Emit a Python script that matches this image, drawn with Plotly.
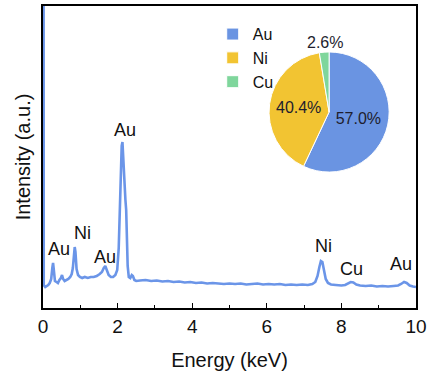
import plotly.graph_objects as go

# EDS spectrum (energy in keV, intensity in arbitrary units)
energy = [0.00, 0.02, 0.06, 0.10, 0.14, 0.18, 0.22, 0.25, 0.27, 0.29, 0.32, 0.36, 0.40, 0.44, 0.48,
          0.51, 0.54, 0.58, 0.63, 0.68, 0.73, 0.77, 0.80, 0.83, 0.85, 0.87, 0.90, 0.94, 0.99, 1.05,
          1.12, 1.20, 1.28, 1.36, 1.44, 1.52, 1.58, 1.63, 1.67, 1.71, 1.76, 1.82, 1.88, 1.94, 1.99,
          2.03, 2.06, 2.09, 2.11, 2.13, 2.15, 2.17, 2.19, 2.21, 2.23, 2.25, 2.27, 2.30, 2.34, 2.38,
          2.41, 2.45, 2.50, 2.60, 2.75, 2.90, 3.05, 3.20, 3.35, 3.50, 3.65, 3.80, 3.95, 4.10, 4.25,
          4.40, 4.55, 4.70, 4.85, 5.00, 5.15, 5.30, 5.45, 5.60, 5.75, 5.90, 6.05, 6.20, 6.35, 6.50,
          6.65, 6.80, 6.95, 7.10, 7.22, 7.30, 7.36, 7.41, 7.45, 7.49, 7.53, 7.58, 7.64, 7.72, 7.85,
          8.00, 8.10, 8.18, 8.25, 8.32, 8.40, 8.50, 8.65, 8.80, 8.95, 9.10, 9.25, 9.40, 9.52, 9.60,
          9.68, 9.75, 9.83, 9.92, 10.00]
intensity = [1500, 23, 21, 22, 23, 25, 29, 40, 45, 38, 27, 26, 25, 28, 30,
             33, 29, 27, 28, 29, 31, 34, 40, 55, 61, 56, 39, 33, 31, 30,
             31, 30, 31, 31, 32, 34, 36, 40, 42, 38, 33, 31, 31, 33, 38,
             60, 105, 150, 162, 166, 150, 130, 112, 108, 98, 70, 42, 31, 30, 33,
             32, 28, 27, 27.5, 28, 27, 27.5, 26.5, 27, 26, 26.5, 25.5, 26, 25, 25.5,
             24.5, 25, 24.5, 24, 24.5, 24, 24.5, 23.5, 24, 24.5, 23.5, 24, 23.5, 24, 23,
             23.5, 23, 23.5, 23, 24, 26, 32, 41, 47, 46, 38, 29, 25, 23.5, 23,
             22.5, 23, 24.5, 26, 25.5, 23.5, 22.5, 22, 22.5, 21.5, 22, 21.5, 22, 22.5, 24,
             26, 25, 22.5, 21.5, 21]

# Peak labels
peak_labels = ["Au", "Ni", "Au", "Au", "Ni", "Cu", "Au"]
peak_label_x = [0.44, 1.05, 1.65, 2.20, 7.53, 8.28, 9.59]
peak_label_y = [59, 75, 51, 178, 62, 39, 44]

# Composition pie
elements = ["Au", "Ni", "Cu"]
fractions = [57.0, 40.4, 2.6]
pie_colors = ["#6a94e2", "#f2c432", "#7fd69c"]
slice_text = ["%{value:.1f}%", "%{value:.1f}%", ""]

x_ticks = [0, 2, 4, 6, 8, 10]

FONT = "Liberation Sans, Arial, sans-serif"

fig = go.Figure()
fig.add_trace(go.Scatter(
    x=energy, y=intensity, mode="lines",
    line=dict(color="#6b95e8", width=2.6),
    showlegend=False, hoverinfo="skip",
))
fig.add_trace(go.Pie(
    labels=elements, values=fractions, sort=False, direction="clockwise", rotation=0,
    marker=dict(colors=pie_colors, line=dict(color="white", width=1)),
    texttemplate=slice_text, textposition="inside",
    textfont=dict(size=16, color="#1e1e2e", family=FONT),
    insidetextorientation="horizontal",
    domain=dict(x=[0.606, 0.928], y=[0.450, 0.848]),
    showlegend=True,
))

# small slice label sits above the pie
fig.add_annotation(x=0.756, y=0.878, xref="paper", yref="paper", showarrow=False,
                   xanchor="center", yanchor="middle",
                   text=f"{fractions[2]:.1f}%",
                   font=dict(size=16, color="#1e1e2e", family=FONT))

for lab, lx, ly in zip(peak_labels, peak_label_x, peak_label_y):
    fig.add_annotation(x=lx, y=ly, text=lab, showarrow=False,
                       xanchor="center", yanchor="middle",
                       font=dict(size=18, color="#111", family=FONT),
                       xref="x", yref="y")

fig.update_layout(
    width=428, height=378,
    margin=dict(l=43, r=12, t=6, b=70),
    paper_bgcolor="white", plot_bgcolor="white",
    font=dict(family=FONT, color="#111"),
    legend=dict(x=0.455, y=0.963, xanchor="left", yanchor="top",
                font=dict(size=16, family=FONT), bgcolor="rgba(0,0,0,0)",
                itemclick=False),
    xaxis=dict(
        range=[0, 10], tickvals=x_ticks, ticks="inside", ticklen=5, tickwidth=1.2,
        tickcolor="black", showline=True, linecolor="black", linewidth=1.5, mirror=True,
        showgrid=False, zeroline=False, tickfont=dict(size=19, family=FONT),
        minor=dict(dtick=1, ticks="inside", ticklen=3, tickcolor="black", tickwidth=1),
        title=dict(text="Energy (keV)", font=dict(size=20, family=FONT), standoff=17),
        automargin=False,
    ),
    yaxis=dict(
        range=[0, 302], showticklabels=False, ticks="", showline=True, linecolor="black",
        linewidth=1.5, mirror=True, showgrid=False, zeroline=False,
        title=dict(text="Intensity (a.u.)", font=dict(size=20, family=FONT), standoff=5),
        automargin=False,
    ),
)

fig.write_html("out.html", config={"displayModeBar": False},
               post_script="document.body.style.margin='0px';")
